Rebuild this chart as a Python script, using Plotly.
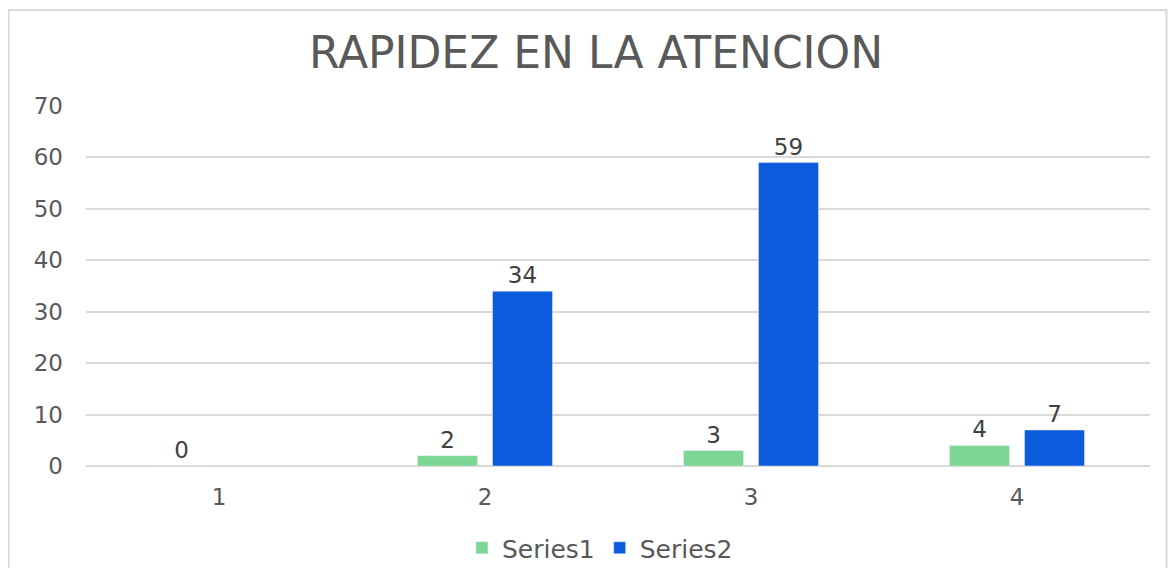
import plotly.graph_objects as go

categories = ["1", "2", "3", "4"]
series1 = [0, 2, 3, 4]
series2 = [None, 34, 59, 7]

fnt = "DejaVu Sans, Arial, sans-serif"

fig = go.Figure()
fig.add_trace(go.Bar(x=categories, y=series1, name="Series1", marker_color="#7dd794",
                     text=series1, textposition="outside", cliponaxis=False,
                     textfont=dict(size=23, color="#404040", family=fnt)))
fig.add_trace(go.Bar(x=categories, y=series2, name="Series2", marker_color="#0c5bdc",
                     text=series2, textposition="outside", cliponaxis=False,
                     textfont=dict(size=23, color="#404040", family=fnt)))

# body has an 8px margin in the page, so keep the figure inside the window
fig.update_layout(
    width=1160, height=560,
    margin=dict(l=78, r=18, t=98, b=102),
    paper_bgcolor="white", plot_bgcolor="white",
    barmode="group", bargap=0.436, bargroupgap=0.2,
    title=dict(text="RAPIDEZ EN LA ATENCION", x=0.507, xanchor="center", y=0.921, yanchor="middle",
               font=dict(size=44, color="#595959", family=fnt)),
    legend=dict(orientation="h", x=0.483, xanchor="center", xref="paper",
                y=0.0357, yanchor="middle", yref="container", bgcolor="rgba(0,0,0,0)",
                font=dict(size=25, color="#595959", family=fnt), itemwidth=30),
    font=dict(family=fnt, color="#595959"),
)
fig.update_xaxes(type="category", showgrid=False, showline=False, ticks="",
                 tickfont=dict(size=23, color="#595959"), ticklabelstandoff=15)
fig.update_yaxes(range=[0, 70], dtick=10, showgrid=True, gridcolor="#d9d9d9", gridwidth=1.5,
                 zeroline=True, zerolinecolor="#d9d9d9", zerolinewidth=1.5, ticks="",
                 tickfont=dict(size=23, color="#595959"), ticklabelstandoff=22)

# chart border like the spreadsheet chart area (bottom edge runs off the page)
fig.add_shape(type="rect", xref="paper", yref="paper",
              x0=-0.0728, x1=1.0155, y0=-0.4, y1=1.2667,
              line=dict(color="#d9d9d9", width=2), fillcolor="rgba(0,0,0,0)")

fig.write_html("out.html")
